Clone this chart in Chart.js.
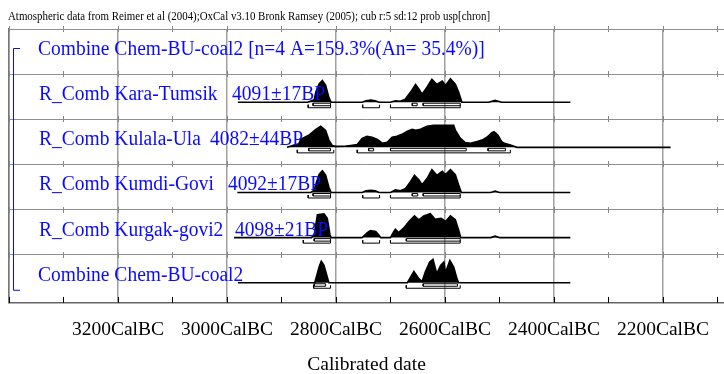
<!DOCTYPE html>
<html>
<head>
<meta charset="utf-8">
<script src="https://cdn.jsdelivr.net/npm/chart.js@4/dist/chart.umd.min.js"></script>
<style>
  html, body { margin: 0; padding: 0; background: #fff; }
</style>
</head>
<body>
<canvas id="chart" width="724" height="374"></canvas>
<script>
const header = 'Atmospheric data from Reimer et al (2004);OxCal v3.10 Bronk Ramsey (2005); cub r:5 sd:12 prob usp[chron]'
const rowNames = ['Combine Chem-BU-coal2 [n=4 A=159.3%(An= 35.4%)]', 'R_Comb Kara-Tumsik', 'R_Comb Kulala-Ula',
  'R_Comb Kumdi-Govi', 'R_Comb Kurgak-govi2', 'Combine Chem-BU-coal2']
const rowDates = ['', '4091±17BP', '4082±44BP', '4092±17BP', '4098±21BP', '']
const labelYears = [3200, 3000, 2800, 2600, 2400, 2200]

// relative probability, 1 = tallest peak
const karaYears = [2980, 2852, 2840, 2837, 2831, 2825, 2819, 2813, 2809, 2752, 2745, 2736, 2728, 2721, 2700, 2691, 2682, 2673,
  2663, 2654, 2648, 2642, 2633, 2624, 2615, 2605, 2599, 2590, 2581, 2575, 2569, 2520, 2508, 2496, 2370]
const karaProb = [0, 0, 0.1, 0.42, 0.76, 0.9, 0.7, 0.2, 0, 0, 0.06, 0.09, 0.06, 0, 0, 0.06, 0.04, 0.12,
  0.42, 0.74, 0.55, 0.33, 0.62, 0.95, 0.74, 0.88, 0.7, 0.97, 0.75, 0.42, 0, 0, 0.08, 0, 0]

const kulalaYears = [2890, 2868, 2865, 2850, 2837, 2828, 2819, 2813, 2807, 2801, 2782, 2773, 2761, 2752, 2743, 2734, 2724,
  2715, 2706, 2697, 2688, 2679, 2669, 2660, 2654, 2645, 2633, 2621, 2608, 2590, 2584, 2581, 2572, 2563, 2553, 2541, 2532,
  2523, 2514, 2510, 2503, 2496, 2491, 2480, 2468, 2186]
const kulalaProb = [0, 0.15, 0.33, 0.5, 0.75, 0.88, 0.7, 0.3, 0.08, 0.04, 0.05, 0.08, 0.12, 0.37, 0.46, 0.42, 0.33,
  0.17, 0.21, 0.42, 0.46, 0.54, 0.67, 0.75, 0.71, 0.75, 0.88, 0.92, 0.92, 0.92, 0.92, 0.71, 0.38, 0.2, 0.17, 0.24, 0.3,
  0.42, 0.61, 0.65, 0.51, 0.24, 0.17, 0.1, 0, 0]

const kumdiYears = [2981, 2846, 2840, 2836, 2831, 2825, 2819, 2813, 2809, 2752, 2745, 2736, 2728, 2721, 2700, 2691, 2682, 2673,
  2663, 2656, 2648, 2642, 2633, 2624, 2615, 2605, 2599, 2590, 2581, 2575, 2570, 2516, 2508, 2500, 2370]
const kumdiProb = [0, 0, 0.1, 0.4, 0.75, 0.9, 0.72, 0.22, 0, 0, 0.07, 0.09, 0.07, 0, 0, 0.11, 0.07, 0.15,
  0.46, 0.71, 0.53, 0.32, 0.58, 0.95, 0.71, 0.88, 0.74, 0.95, 0.74, 0.32, 0, 0, 0.06, 0, 0]

const kurgakYears = [2987, 2845, 2840, 2834, 2822, 2816, 2811, 2809, 2752, 2743, 2737, 2727, 2721, 2718, 2700, 2694, 2691,
  2685, 2676, 2666, 2656, 2648, 2639, 2627, 2618, 2607, 2599, 2590, 2581, 2575, 2571, 2516, 2508, 2500, 2370]
const kurgakProb = [0, 0, 0.12, 0.95, 0.99, 0.8, 0.12, 0, 0, 0.2, 0.29, 0.25, 0.1, 0, 0, 0.25, 0.35,
  0.21, 0.39, 0.67, 0.9, 0.74, 0.9, 0.99, 0.76, 0.8, 0.67, 0.9, 0.74, 0.32, 0, 0, 0.06, 0, 0]

const combineYears = [2980, 2839, 2836, 2831, 2827, 2822, 2816, 2813, 2669, 2657, 2648, 2642, 2636, 2628, 2622, 2615, 2608,
  2602, 2599, 2591, 2584, 2578, 2575, 2370]
const combineProb = [0, 0, 0.24, 0.65, 0.89, 0.72, 0.24, 0, 0, 0.47, 0.17, 0.05, 0.45, 0.86, 0.97, 0.38, 0.72,
  0.86, 0.42, 0.93, 0.65, 0.17, 0, 0]

// highest probability ranges [from, to] cal BC
const kara68 = [[2842, 2810], [2660, 2651], [2640, 2572]]
const kara95 = [[2851, 2810], [2751, 2720], [2700, 2572]]
const kulala68 = [[2850, 2810], [2740, 2731], [2700, 2561], [2521, 2489]]
const kulala95 = [[2871, 2804], [2761, 2480]]
const kumdi68 = [[2842, 2810], [2660, 2650], [2640, 2572]]
const kumdi95 = [[2851, 2810], [2751, 2720], [2700, 2572]]
const kurgak68 = [[2840, 2810], [2671, 2572]]
const kurgak95 = [[2860, 2810], [2751, 2720], [2700, 2572]]
const combine68 = [[2840, 2819], [2640, 2577]]
const combine95 = [[2841, 2810], [2671, 2572]]

const rows = [
  null,
  { years: karaYears, prob: karaProb, r68: kara68, r95: kara95 },
  { years: kulalaYears, prob: kulalaProb, r68: kulala68, r95: kulala95 },
  { years: kumdiYears, prob: kumdiProb, r68: kumdi68, r95: kumdi95 },
  { years: kurgakYears, prob: kurgakProb, r68: kurgak68, r95: kurgak95 },
  { years: combineYears, prob: combineProb, r68: combine68, r95: combine95 }
]

const PX = 1 / 45 // one pixel in row units
const baseOf = i => 6 - i - 28 * PX

const datasets = []
rows.forEach((row, i) => {
  if (!row) return
  const base = baseOf(i)
  datasets.push({
    data: row.years.map((yr, k) => ({ x: yr, y: base + row.prob[k] * 24 * PX })),
    showLine: true,
    borderColor: '#000',
    backgroundColor: '#000',
    borderWidth: 1.6,
    pointRadius: 0,
    fill: { value: base }
  })
  const box = []
  row.r68.forEach(([a, b]) => {
    const t = base - 1 * PX, u = base - 3.5 * PX
    box.push({ x: a, y: t }, { x: a, y: u }, { x: b, y: u }, { x: b, y: t }, { x: a, y: t }, { x: b, y: null })
  })
  const brk = []
  row.r95.forEach(([a, b]) => {
    const t = base - 2.5 * PX, u = base - 5.5 * PX
    brk.push({ x: a, y: t }, { x: a, y: u }, { x: b, y: u }, { x: b, y: t }, { x: b, y: null })
  })
  ;[box, brk].forEach(d => datasets.push({
    data: d, showLine: true, borderColor: '#000', borderWidth: 1, pointRadius: 0, fill: false, spanGaps: false
  }))
})

const serif = '"Liberation Serif", "Times New Roman", serif'
const blue = '#0a0aff'

// text drawn a little taller than wide, like the source
function tallText(ctx, text, x, y, sy) {
  ctx.save()
  ctx.translate(x, y)
  ctx.scale(1, sy)
  ctx.fillText(text, 0, 0)
  ctx.restore()
}

const overlay = {
  id: 'overlay',
  beforeDatasetsDraw(chart) {
    const { ctx, scales: { x, y } } = chart
    ctx.save()
    ctx.lineWidth = 1
    for (let v = 2100; v <= 3400; v += 100) {
      const xp = Math.round(x.getPixelForValue(v)) + 0.5
      ctx.strokeStyle = '#888'
      ctx.beginPath()
      for (let r = 1; r <= 6; r++) {
        const yp = Math.round(y.getPixelForValue(r))
        ctx.moveTo(xp, yp - 3)
        ctx.lineTo(xp, yp + 3)
      }
      ctx.stroke()
      ctx.strokeStyle = '#000'
      ctx.beginPath()
      ctx.moveTo(xp, y.bottom)
      ctx.lineTo(xp, y.bottom - 6)
      ctx.stroke()
    }
    ctx.restore()
  },
  afterDatasetsDraw(chart) {
    const { ctx, chartArea, scales: { y } } = chart
    ctx.save()
    ctx.fillStyle = blue
    ctx.font = '19.5px ' + serif
    ctx.textBaseline = 'alphabetic'
    const dateX = [0, 232, 210, 228, 235, 0]
    rowNames.forEach((name, i) => {
      const yp = y.getPixelForValue(6 - i) + 26
      tallText(ctx, name, name.startsWith('R_') ? 39 : 38, yp, 1.12)
      if (rowDates[i]) tallText(ctx, rowDates[i], dateX[i], yp, 1.12)
    })
    // bracket
    ctx.strokeStyle = blue
    ctx.lineWidth = 1
    const top = chartArea.top + 19.5, bot = y.getPixelForValue(0) - 9.5
    ctx.beginPath()
    ctx.moveTo(20, top); ctx.lineTo(13.5, top); ctx.lineTo(13.5, bot); ctx.lineTo(20, bot)
    ctx.stroke()
    // header
    ctx.fillStyle = '#000'
    ctx.font = '10.9px ' + serif
    tallText(ctx, header, 8, 20, 1.1)
    ctx.restore()
  }
}

new Chart(document.getElementById('chart'), {
  type: 'scatter',
  data: { datasets },
  options: {
    responsive: false,
    animation: false,
    devicePixelRatio: 1,
    layout: { padding: { left: 9, top: 29, right: 0, bottom: 0 } },
    plugins: { legend: { display: false }, tooltip: { enabled: false } },
    scales: {
      x: {
        type: 'linear',
        reverse: true,
        min: 2088,
        max: 3400,
        afterBuildTicks: scale => {
          const t = []
          for (let v = 2100; v <= 3400; v += 100) t.push({ value: v })
          scale.ticks = t
        },
        grid: {
          drawTicks: false,
          color: c => c.tick && c.tick.value % 200 === 0 ? '#a0a0a0' : 'rgba(0,0,0,0)',
          lineWidth: 1.5
        },
        border: { color: '#666', width: 1.5 },
        ticks: {
          autoSkip: false,
          maxRotation: 0,
          padding: 17,
          color: '#000',
          font: { family: serif, size: 19.5, lineHeight: 1 },
          callback: v => labelYears.includes(v) ? v + 'CalBC' : ''
        },
        title: {
          display: true,
          text: 'Calibrated date',
          color: '#000',
          font: { family: serif, size: 19.5, lineHeight: 0.9 },
          padding: { top: 0, bottom: 0 }
        }
      },
      y: {
        min: -0.07,
        max: 6,
        afterBuildTicks: scale => { scale.ticks = [1, 2, 3, 4, 5, 6].map(v => ({ value: v })) },
        grid: { drawTicks: false, color: '#909090', lineWidth: 1 },
        border: { color: '#777', width: 1.5 },
        ticks: { display: false }
      }
    }
  },
  plugins: [overlay]
})
</script>
</body>
</html>
